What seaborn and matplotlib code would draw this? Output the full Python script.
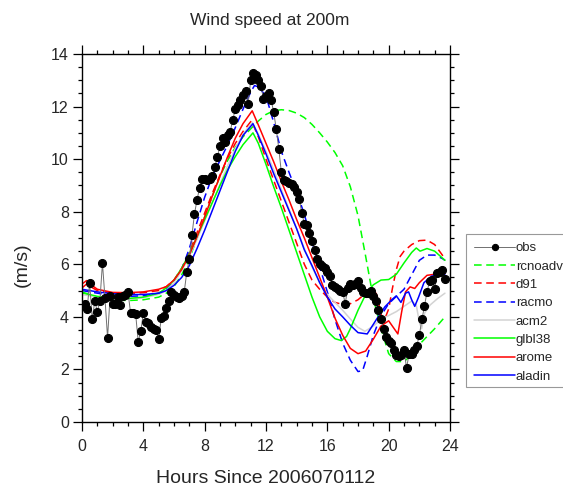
import numpy as np
import matplotlib
matplotlib.use("Agg")
import matplotlib.pyplot as plt
from matplotlib.ticker import MultipleLocator
from matplotlib.patches import Rectangle
import seaborn as sns

# observations every 10 minutes (starting at 00:10)
obs_values = [
    4.5, 4.3, 5.3, 3.9, 4.6, 4.2, 4.6, 6.05, 4.7, 3.2,
    4.8, 4.5, 4.5, 4.75, 4.45, 4.8, 4.85, 4.95, 4.15, 4.15,
    4.1, 3.05, 3.45, 4.15, 3.8, 3.75, 3.6, 3.55, 3.5, 3.15,
    3.95, 4.05, 4.35, 4.6, 4.95, 4.85, 4.75, 4.7, 4.8, 4.95,
    5.7, 6.2, 7.1, 7.9, 8.45, 8.9, 9.25, 9.25, 9.2, 9.25,
    9.35, 9.7, 10.1, 10.5, 10.8, 10.65, 10.9, 11.05, 11.5, 11.9,
    12.05, 12.25, 12.45, 12.6, 12.1, 13.0, 13.28, 13.19, 13.0, 12.8,
    12.3, 12.4, 12.5, 12.25, 11.8, 11.15, 10.4, 9.5, 9.2, 9.15,
    9.1, 9.05, 8.95, 8.75, 8.5, 7.95, 7.55, 7.5, 7.2, 6.9,
    6.55, 6.2, 6.0, 5.95, 5.85, 5.7, 5.55, 5.2, 5.15, 5.05,
    5.0, 4.95, 4.5, 5.1, 5.25, 5.2, 5.25, 5.35, 5.1, 4.95,
    4.9, 4.9, 5.0, 4.8, 4.6, 4.25, 3.9, 3.55, 3.25, 3.1,
    3.0, 2.75, 2.55, 2.5, 2.55, 2.75, 2.05, 2.6, 2.6, 2.75,
    2.9, 3.3, 3.9, 4.4, 4.95, 5.35, 5.4, 5.05, 5.65, 5.7,
    5.8, 5.45,
]
obs_hours = np.arange(1, len(obs_values) + 1) / 6.0

rcnoadv_h = [0, 1, 2, 3, 4, 5, 5.5, 6, 6.5, 7, 7.5, 8, 8.5, 9, 9.5, 10, 10.5, 11,
             11.5, 12, 12.5, 13, 13.5, 14, 14.5, 15, 15.5, 16, 16.5, 17, 17.5, 18,
             18.5, 19, 19.5, 20, 20.5, 21, 21.5, 22, 22.5, 23, 23.67]
rcnoadv_v = [4.9, 4.75, 4.65, 4.62, 4.65, 4.75, 4.9, 5.15, 5.6, 6.2, 7.0, 7.8, 8.6, 9.35,
             9.95, 10.45, 10.85, 11.15, 11.45, 11.7, 11.84, 11.88, 11.85, 11.75, 11.58,
             11.32, 11.0, 10.65, 10.25, 9.75, 8.95, 7.85, 6.3, 4.7, 3.55, 2.6, 2.3, 2.3,
             2.55, 2.95, 3.25, 3.55, 4.0]

d91_h = [0, 0.3, 0.7, 1, 2, 3, 4, 5, 5.5, 6, 6.5, 7, 7.5, 8, 8.5, 9, 9.5, 10, 10.5, 11.05,
         11.5, 12, 12.5, 13, 13.5, 14, 14.5, 15, 15.5, 16, 16.5, 17, 17.5, 18, 18.5, 19,
         19.25, 19.5, 19.7, 20, 20.25, 20.5, 20.75, 21, 21.5, 22, 22.5, 23, 23.5, 23.67]
d91_v = [5.1, 5.25, 5.1, 5.0, 4.9, 4.88, 4.92, 5.0, 5.15, 5.4, 5.85, 6.45, 7.2, 7.95, 8.7,
         9.4, 10.05, 10.6, 11.05, 11.46, 10.85, 10.0, 9.2, 8.4, 7.6, 6.8, 6.0, 5.4, 5.05,
         4.75, 4.55, 4.47, 4.5, 4.65, 4.9, 5.08, 4.8, 4.1, 3.85, 4.3, 5.1, 5.8, 6.3, 6.5,
         6.75, 6.9, 6.92, 6.75, 6.35, 6.15]

racmo_h = [0, 0.5, 1, 2, 3, 4, 5, 5.5, 6, 6.5, 7, 7.5, 8, 8.5, 9, 9.5, 10, 10.5, 11, 11.25,
           11.5, 12, 12.5, 13, 13.5, 14, 14.5, 15, 15.5, 16, 16.5, 17, 17.5, 18, 18.3, 18.6,
           19, 19.5, 20, 20.5, 21, 21.5, 22, 22.5, 23, 23.5, 23.67]
racmo_v = [5.0, 4.95, 4.9, 4.82, 4.78, 4.8, 4.9, 5.05, 5.35, 5.8, 6.6, 7.6, 8.55, 9.35,
           9.95, 10.55, 11.2, 11.9, 12.55, 12.8, 12.75, 12.4, 11.4, 10.3, 9.5, 8.75, 7.9,
           6.85, 5.9, 4.95, 3.9, 3.0, 2.35, 1.92, 1.95, 2.5, 3.3, 4.05, 4.5, 4.78, 5.05,
           5.6, 6.15, 6.35, 6.35, 6.22, 6.15]

acm2_h = [0, 0.5, 1, 2, 3, 4, 5, 5.5, 6, 6.5, 7, 7.5, 8, 8.5, 9, 9.5, 10, 10.5, 11.1,
          11.5, 12, 12.5, 13, 13.5, 14, 14.5, 15, 15.5, 16, 16.5, 17, 17.5, 18, 18.45,
          19, 19.5, 20, 20.5, 21, 21.5, 21.8, 22.0, 22.15, 22.35, 22.7, 23.2, 23.67]
acm2_v = [4.85, 4.8, 4.75, 4.7, 4.68, 4.72, 4.85, 5.0, 5.3, 5.75, 6.3, 6.95, 7.65, 8.35,
          9.05, 9.75, 10.4, 10.95, 11.4, 10.95, 10.3, 9.6, 8.85, 8.1, 7.35, 6.6, 5.9, 5.3,
          4.85, 4.55, 4.25, 3.92, 3.6, 3.45, 3.65, 3.9, 4.05, 4.2, 4.4, 4.6, 4.45, 3.8,
          3.55, 4.15, 4.45, 4.7, 4.9]

glbl38_h = [0, 0.5, 1, 2, 3, 4, 5, 5.5, 6, 6.5, 7, 7.5, 8, 8.5, 9, 9.5, 10, 10.5, 11.15,
            11.5, 12, 12.5, 13, 13.5, 14, 14.5, 15, 15.5, 16, 16.5, 16.9, 17.25, 17.5, 18,
            18.5, 19, 19.5, 20, 20.5, 21, 21.5, 21.8, 22.05, 22.5, 23, 23.67]
glbl38_v = [4.95, 4.85, 4.78, 4.72, 4.7, 4.75, 4.9, 5.1, 5.4, 5.85, 6.4, 7.05, 7.7, 8.35,
            9.0, 9.6, 10.1, 10.55, 11.0, 10.6, 9.8, 8.95, 8.15, 7.3, 6.45, 5.6, 4.75, 4.0,
            3.45, 3.17, 3.1, 3.25, 3.55, 4.25, 4.85, 5.22, 5.4, 5.42, 5.62, 6.05, 6.45,
            6.62, 6.5, 6.6, 6.5, 6.15]

arome_h = [0, 0.3, 0.6, 1, 2, 3, 4, 5, 5.5, 6, 6.5, 7, 7.5, 8, 8.5, 9, 9.5, 10, 10.5, 11.1,
           11.5, 12, 12.5, 13, 13.5, 14, 14.5, 15, 15.5, 16, 16.5, 17, 17.5, 18, 18.5, 19,
           19.5, 20, 20.3, 20.6, 20.85, 21.1, 21.4, 21.7, 22, 22.5, 23, 23.67]
arome_v = [5.25, 5.38, 5.22, 5.05, 4.93, 4.92, 4.95, 5.05, 5.15, 5.4, 5.8, 6.35, 7.05, 7.8,
           8.6, 9.35, 10.1, 10.8, 11.35, 11.84, 11.3, 10.6, 9.9, 9.15, 8.45, 7.7, 7.0, 6.25,
           5.5, 4.75, 3.95, 3.3, 2.8, 2.6, 2.7, 3.15, 3.65, 3.85, 3.6, 3.35, 4.2, 4.95,
           5.14, 5.08, 5.3, 5.58, 5.62, 5.65]

aladin_h = [0, 0.5, 1, 2, 3, 4, 5, 5.5, 6, 6.5, 7, 7.5, 8, 8.5, 9, 9.5, 10, 10.5, 11.15,
            11.5, 12, 12.5, 13, 13.5, 14, 14.5, 15, 15.5, 16, 16.5, 17, 17.5, 18, 18.6,
            19.2, 19.75, 20.2, 20.5, 20.8, 21.1, 21.3, 21.5, 21.7, 21.95, 22.3, 22.8, 23.3,
            23.67]
aladin_v = [5.05, 5.0, 4.95, 4.88, 4.85, 4.85, 4.9, 5.0, 5.2, 5.5, 5.95, 6.6, 7.3, 8.05,
            8.8, 9.55, 10.3, 10.9, 11.35, 10.9, 10.2, 9.45, 8.75, 8.05, 7.35, 6.55, 5.95,
            5.3, 4.75, 4.3, 4.0, 3.68, 3.4, 3.35, 3.9, 4.38, 4.65, 4.8, 4.55, 4.9, 4.95,
            4.65, 4.4, 4.75, 5.3, 5.55, 5.6, 5.6]

GREEN = "#00ff00"
RED = "#ff0000"
BLUE = "#0000ff"
GRAY = "#d3d3d3"

models = [
    ("rcnoadv", rcnoadv_h, rcnoadv_v, GREEN, "--"),
    ("d91", d91_h, d91_v, RED, "--"),
    ("racmo", racmo_h, racmo_v, BLUE, "--"),
    ("acm2", acm2_h, acm2_v, GRAY, "-"),
    ("glbl38", glbl38_h, glbl38_v, GREEN, "-"),
    ("arome", arome_h, arome_v, RED, "-"),
    ("aladin", aladin_h, aladin_v, BLUE, "-"),
]

sns.set_style("ticks")
plt.rcParams["font.family"] = ["Liberation Sans", "DejaVu Sans"]

fig = plt.figure(figsize=(5.63, 4.90), dpi=100)
ax = fig.add_axes([82 / 563, 1 - 422 / 490, 368 / 563, 368 / 490])

for name, hh, vv, col, ls in models:
    sns.lineplot(x=hh, y=vv, ax=ax, color=col, linewidth=1.1, linestyle=ls,
                 estimator=None, sort=False, legend=False)
    if ls == "--":
        ax.lines[-1].set_dashes((5, 3))

sns.lineplot(x=obs_hours, y=obs_values, ax=ax, color="#707070", linewidth=0.7,
             marker="o", markersize=5.8, markerfacecolor="black",
             markeredgecolor="black", estimator=None, sort=False, legend=False)

ax.set_xlim(0, 24)
ax.set_ylim(0, 14)
ax.xaxis.set_major_locator(MultipleLocator(4))
ax.xaxis.set_minor_locator(MultipleLocator(1))
ax.yaxis.set_major_locator(MultipleLocator(2))
ax.yaxis.set_minor_locator(MultipleLocator(0.5))
ax.tick_params(which="both", direction="out", top=True, right=True, width=0.9,
               labelsize=11.5, color="black")
ax.tick_params(which="major", length=6.5)
ax.tick_params(which="minor", length=3.2)
ax.tick_params(axis="x", pad=6)
ax.tick_params(axis="y", pad=3)
for sp in ax.spines.values():
    sp.set_visible(True)
    sp.set_linewidth(1.0)
    sp.set_color("black")

ax.set_xlabel("Hours Since 2006070112", fontsize=14)
ax.xaxis.set_label_coords(0.5, (422 - 478) / 368)
ax.xaxis.label.set_va("center")
ax.set_ylabel("(m/s)", fontsize=14)
ax.yaxis.set_label_coords((22 - 82) / 368, (422 - 265) / 368)
ax.yaxis.label.set_va("center")
fig.text(270 / 563, 1 - 20 / 490, "Wind speed at 200m", fontsize=12.5,
         ha="center", va="center")

# legend box drawn by hand, running off the right edge like the reference
box = Rectangle((466 / 563, 1 - 387 / 490), 140 / 563, 153 / 490,
                transform=fig.transFigure, facecolor="white",
                edgecolor="#999999", linewidth=0.8, zorder=1)
fig.add_artist(box)

handles = [ax.lines[-1]] + ax.lines[:len(models)]
labels = ["obs"] + [m[0] for m in models]
leg = fig.legend(handles, labels, loc="upper left",
                 bbox_to_anchor=(466 / 563, 1 - 234 / 490), borderaxespad=0,
                 fontsize=9.5, handlelength=3.1, handletextpad=0.05,
                 labelspacing=0.46, borderpad=0.62, numpoints=1,
                 frameon=False)
leg.set_zorder(5)
for h in leg.legend_handles:
    if h.get_marker() == "o":
        h.set_markersize(4.5)

fig.savefig("out.png", dpi=100)
